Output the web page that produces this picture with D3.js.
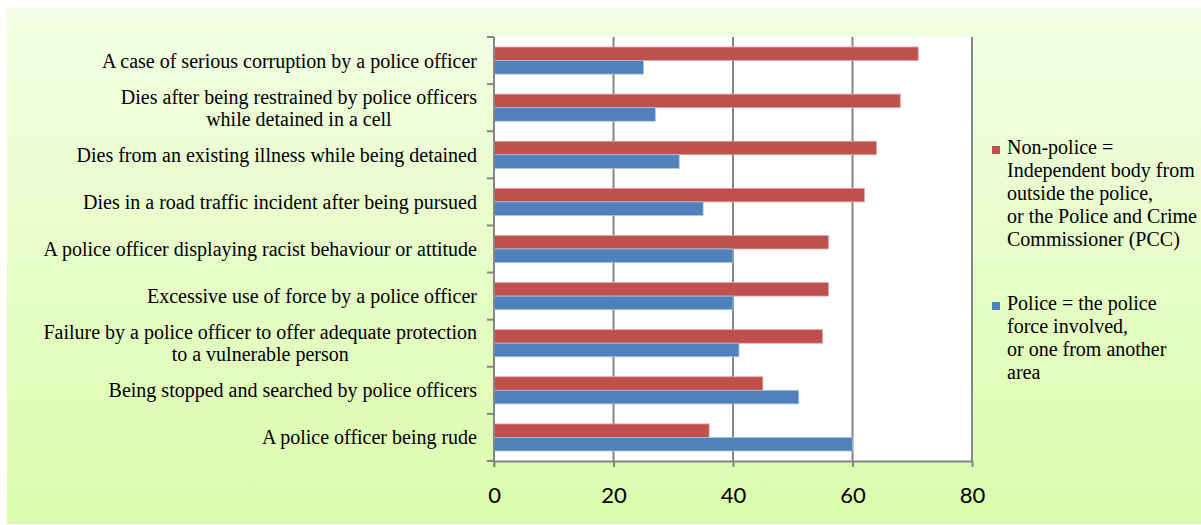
<!DOCTYPE html>
<html>
<head>
<meta charset="utf-8">
<script src="https://cdn.jsdelivr.net/npm/d3@7"></script>
<style>
  body { margin: 0; background: #ffffff; }
  .cat { font-family: "Liberation Serif", "Times New Roman", serif; font-size: 20px; fill: #000; }
  .legend { font-family: "Liberation Serif", "Times New Roman", serif; font-size: 20px; fill: #000; }
  .xaxis text { font-family: Lato, "Open Sans", sans-serif; font-size: 22px; fill: #000; }
</style>
</head>
<body>
<div id="chart"></div>
<script>
// categories from top to bottom, lines split as in the original
const categories = [
  ["A case of serious corruption by a police officer"],
  ["Dies after being restrained by police officers", "while detained in a cell"],
  ["Dies from an existing illness while being detained"],
  ["Dies in a road traffic incident after being pursued"],
  ["A police officer displaying racist behaviour or attitude"],
  ["Excessive use of force by a police officer"],
  ["Failure by a police officer to offer adequate protection", "to a vulnerable person"],
  ["Being stopped and searched by police officers"],
  ["A police officer being rude"]
];
const nonPolice = [71, 68, 64, 62, 56, 56, 55, 45, 36];
const police = [25, 27, 31, 35, 40, 40, 41, 51, 60];
const xTicks = [0, 20, 40, 60, 80];
const legendNonPolice = ["Non-police =", "Independent body from", "outside the police,", "or the Police and Crime", "Commissioner (PCC)"];
const legendPolice = ["Police = the police", "force involved,", "or one from another", "area"];

const W = 1201, H = 525;
const plot = { left: 494, right: 972, top: 37, bottom: 461 };
const red = "#c0504d", blue = "#4f81bd", grid = "#868686";

const svg = d3.select("#chart").append("svg")
  .attr("width", W)
  .attr("height", H);

// green gradient background
const grad = svg.append("defs").append("linearGradient")
  .attr("id", "bg").attr("x1", 0).attr("y1", 0).attr("x2", 0).attr("y2", 1);
grad.append("stop").attr("offset", "0%").attr("stop-color", "#f3fee4");
grad.append("stop").attr("offset", "100%").attr("stop-color", "#dbfcad");

svg.append("rect")
  .attr("x", 7).attr("y", 8)
  .attr("width", W - 7).attr("height", H - 9)
  .attr("fill", "url(#bg)");

// plot area
svg.append("rect")
  .attr("x", plot.left).attr("y", plot.top)
  .attr("width", plot.right - plot.left)
  .attr("height", plot.bottom - plot.top)
  .attr("fill", "#ffffff");

const idx = categories.map((d, i) => i);

const x = d3.scaleLinear().domain([0, 80]).range([plot.left, plot.right]);
const y = d3.scaleBand().domain(idx).range([plot.top, plot.bottom]).padding(0);
const sub = d3.scaleBand().domain(["np", "p"])
  .range([10, y.bandwidth() - 10]).padding(0);

// vertical gridlines
svg.append("g")
  .selectAll("line")
  .data(xTicks.slice(1))
  .enter()
  .append("line")
  .attr("x1", d => x(d)).attr("x2", d => x(d))
  .attr("y1", plot.top).attr("y2", plot.bottom)
  .attr("stroke", grid)
  .attr("stroke-width", 2);

// bars
const groups = svg.append("g")
  .selectAll("g")
  .data(idx)
  .enter()
  .append("g")
  .attr("transform", i => "translate(0," + y(i) + ")");

groups.append("rect")
  .attr("x", x(0))
  .attr("y", sub("np"))
  .attr("width", i => x(nonPolice[i]) - x(0))
  .attr("height", sub.bandwidth())
  .attr("fill", red)
  .attr("stroke", "#e3a9a7")
  .attr("stroke-width", 0.8);

groups.append("rect")
  .attr("x", x(0))
  .attr("y", sub("p"))
  .attr("width", i => x(police[i]) - x(0))
  .attr("height", sub.bandwidth())
  .attr("fill", blue)
  .attr("stroke", "#a9c1e0")
  .attr("stroke-width", 0.8);

// x axis
const xAxis = svg.append("g")
  .attr("class", "xaxis")
  .attr("transform", "translate(0," + plot.bottom + ")")
  .call(d3.axisBottom(x).tickValues(xTicks).tickSize(6).tickSizeOuter(0).tickPadding(20));
xAxis.select(".domain").attr("stroke", grid).attr("stroke-width", 2);
xAxis.selectAll(".tick line").attr("stroke", grid).attr("stroke-width", 2);

// y axis: line and ticks on category boundaries
svg.append("line")
  .attr("x1", plot.left).attr("x2", plot.left)
  .attr("y1", plot.top).attr("y2", plot.bottom + 6)
  .attr("stroke", grid).attr("stroke-width", 2);

svg.append("g")
  .selectAll("line")
  .data(d3.range(categories.length + 1))
  .enter()
  .append("line")
  .attr("x1", plot.left - 7).attr("x2", plot.left)
  .attr("y1", i => plot.top + i * y.step())
  .attr("y2", i => plot.top + i * y.step())
  .attr("stroke", grid).attr("stroke-width", 2);

// category labels: block right aligned, lines centred on each other
const labelRight = 477;
const lineH = 22;
const labels = svg.append("g")
  .selectAll("text")
  .data(idx)
  .enter()
  .append("text")
  .attr("class", "cat")
  .attr("text-anchor", "middle");

labels.each(function (i) {
  const t = d3.select(this);
  const lines = categories[i];
  const cy = y(i) + y.bandwidth() / 2 + 7;
  lines.forEach((l, k) => {
    t.append("tspan")
      .attr("y", cy + (k - (lines.length - 1) / 2) * lineH)
      .text(l);
  });
  let w = 0;
  t.selectAll("tspan").each(function () {
    w = Math.max(w, this.getComputedTextLength());
  });
  t.selectAll("tspan").attr("x", labelRight - w / 2);
});

// legend
const legendX = 992;
const legendItems = [
  { color: red, lines: legendNonPolice, top: 154 },
  { color: blue, lines: legendPolice, top: 310 }
];
const lg = svg.append("g")
  .selectAll("g")
  .data(legendItems)
  .enter()
  .append("g");

lg.append("rect")
  .attr("x", legendX)
  .attr("y", d => d.top - 8)
  .attr("width", 8)
  .attr("height", 8)
  .attr("fill", d => d.color);

lg.append("text")
  .attr("class", "legend")
  .each(function (d) {
    const t = d3.select(this);
    d.lines.forEach((l, k) => {
      t.append("tspan")
        .attr("x", legendX + 15)
        .attr("y", d.top + k * 23)
        .text(l);
    });
  });
</script>
</body>
</html>
